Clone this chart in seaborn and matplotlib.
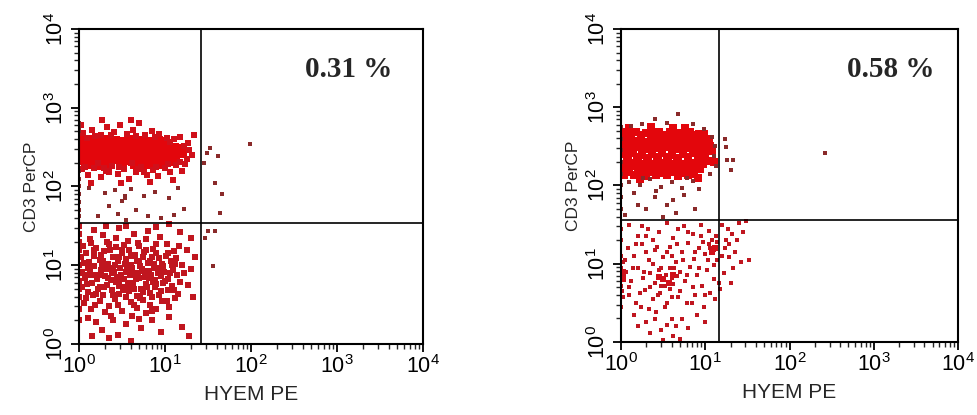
import numpy as np
import pandas as pd
import matplotlib
matplotlib.use("Agg")
import matplotlib.pyplot as plt
from matplotlib.ticker import LogLocator, NullFormatter
import seaborn as sns

# ---------------- data (log10 units of fluorescence) ----------------
AXIS_TICKS = [1, 10, 100, 1000, 10000]
X_LABEL = "HYEM PE"
Y_LABEL = "CD3 PerCP"
PANEL_PCT = ["0.31 %", "0.58 %"]
GATE_X = [26.3, 14.7]
GATE_Y = [34.0, 36.6]

# Left panel, CD3+ cluster, dense core
A_HI_CORE = [
    (0.03, 2.58), (0.12, 2.59), (0.22, 2.57), (0.32, 2.59), (0.42, 2.58), (0.52, 2.57), (0.62, 2.59), (0.72, 2.58), (0.82, 2.57), (0.92, 2.58), (1.00, 2.56),
    (0.02, 2.50), (0.10, 2.51), (0.20, 2.49), (0.30, 2.50), (0.40, 2.51), (0.50, 2.50), (0.60, 2.49), (0.70, 2.51), (0.80, 2.50), (0.90, 2.49), (1.00, 2.50), (1.10, 2.49), (1.17, 2.48),
    (0.04, 2.42), (0.14, 2.43), (0.24, 2.41), (0.34, 2.42), (0.44, 2.43), (0.54, 2.42), (0.64, 2.41), (0.74, 2.42), (0.84, 2.43), (0.94, 2.42), (1.04, 2.41), (1.14, 2.42), (1.20, 2.43),
    (0.03, 2.34), (0.13, 2.35), (0.23, 2.33), (0.33, 2.34), (0.43, 2.35), (0.53, 2.34), (0.63, 2.33), (0.73, 2.34), (0.83, 2.35), (0.93, 2.34), (1.03, 2.33), (1.12, 2.35),
    (0.08, 2.28), (0.20, 2.27), (0.35, 2.29), (0.50, 2.27), (0.65, 2.28), (0.80, 2.29), (0.95, 2.28),
]
A_HI_HALO = [
    (0.05, 2.68), (0.15, 2.72), (0.25, 2.66), (0.33, 2.75), (0.41, 2.69), (0.48, 2.78), (0.56, 2.67), (0.63, 2.72), (0.70, 2.80), (0.77, 2.66),
    (0.85, 2.71), (0.93, 2.67), (1.02, 2.62), (1.10, 2.60), (1.18, 2.63), (0.27, 2.84), (0.60, 2.85), (1.34, 2.66), (0.02, 2.78), (0.09, 2.62),
    (0.04, 2.22), (0.10, 2.15), (0.18, 2.24), (0.26, 2.12), (0.31, 2.20), (0.38, 2.26), (0.45, 2.16), (0.52, 2.22), (0.58, 2.10), (0.66, 2.19),
    (0.72, 2.25), (0.79, 2.14), (0.86, 2.21), (0.92, 2.13), (1.00, 2.24), (1.06, 2.18), (1.13, 2.27), (1.20, 2.20), (1.25, 2.35), (1.28, 2.46),
    (1.27, 2.55), (1.23, 2.29), (0.14, 2.05), (0.49, 2.04), (0.83, 2.06), (1.09, 2.08), (0.22, 2.30), (0.62, 2.30),
    (0.19, 2.64), (0.37, 2.65), (0.66, 2.64), (0.88, 2.63), (1.06, 2.57), (1.22, 2.52), (1.31, 2.40), (1.18, 2.31),
    (0.07, 2.25), (0.29, 2.24), (0.47, 2.25), (0.69, 2.22), (0.89, 2.25), (1.04, 2.29), (0.35, 2.18), (0.75, 2.18),
]
A_HI_SPARSE = [
    (0.12, 1.98), (0.30, 1.92), (0.35, 1.75), (0.42, 1.95), (0.50, 1.82), (0.60, 1.97), (0.66, 1.70), (0.75, 1.88), (0.88, 1.93), (0.95, 1.60),
    (1.05, 1.85), (1.15, 1.98), (1.22, 1.72), (0.22, 1.62), (0.55, 1.58), (0.80, 1.62), (1.10, 1.64), (0.45, 1.65), (0.53, 1.86), (0.54, 1.88),
    (1.52, 2.49), (1.49, 2.42), (1.62, 2.39), (1.58, 2.04), (1.66, 1.91), (1.64, 1.66), (1.50, 1.44), (1.58, 1.44), (1.56, 0.99), (1.47, 1.35),
    (1.99, 2.54), (1.45, 2.30),
    (0.00, 1.62), (0.00, 1.70), (0.00, 1.80), (0.00, 1.90), (0.00, 2.00), (0.00, 2.10), (0.00, 2.20), (0.00, 2.70), (0.00, 2.75), (0.00, 2.80),
]
# Left panel, CD3- cluster
A_LO = [
    (0.05, 1.25), (0.13, 1.33), (0.20, 1.22), (0.28, 1.38), (0.35, 1.27), (0.43, 1.35), (0.50, 1.20), (0.57, 1.31), (0.64, 1.40), (0.70, 1.24),
    (0.78, 1.33), (0.86, 1.21), (0.94, 1.36), (1.02, 1.27), (1.10, 1.18), (0.17, 1.45), (0.47, 1.47), (0.80, 1.44), (1.18, 1.42), (0.31, 1.50),
    (0.02, 1.10), (0.08, 1.15), (0.12, 1.04), (0.18, 1.12), (0.24, 1.07), (0.29, 1.18), (0.34, 1.02), (0.39, 1.11), (0.45, 1.05), (0.50, 1.16),
    (0.55, 1.08), (0.60, 1.00), (0.65, 1.13), (0.70, 1.06), (0.75, 1.17), (0.80, 1.03), (0.85, 1.10), (0.90, 1.15), (0.96, 1.02), (1.01, 1.12),
    (1.07, 1.05), (1.13, 1.09), (1.20, 1.00), (0.27, 1.00), (0.58, 1.19), (0.87, 1.01),
    (0.03, 0.92), (0.07, 0.84), (0.11, 0.97), (0.16, 0.88), (0.21, 0.82), (0.25, 0.94), (0.30, 0.86), (0.33, 0.98), (0.37, 0.81), (0.41, 0.91),
    (0.44, 0.85), (0.48, 0.97), (0.52, 0.83), (0.55, 0.92), (0.59, 0.87), (0.62, 0.96), (0.66, 0.82), (0.69, 0.90), (0.73, 0.95), (0.77, 0.85),
    (0.81, 0.93), (0.84, 0.88), (0.88, 0.81), (0.92, 0.97), (0.95, 0.86), (0.99, 0.91), (1.04, 0.83), (1.09, 0.94), (1.14, 0.87), (1.22, 0.90),
    (0.18, 0.99), (0.46, 0.80), (0.71, 0.99),
    (0.04, 0.72), (0.10, 0.66), (0.15, 0.77), (0.22, 0.70), (0.28, 0.62), (0.32, 0.75), (0.38, 0.68), (0.43, 0.79), (0.47, 0.64), (0.53, 0.73),
    (0.58, 0.67), (0.63, 0.78), (0.68, 0.61), (0.72, 0.70), (0.78, 0.76), (0.83, 0.65), (0.88, 0.72), (0.93, 0.62), (0.98, 0.77), (1.03, 0.68),
    (1.08, 0.74), (1.15, 0.63), (0.55, 0.60), (0.86, 0.79),
    (0.06, 0.52), (0.14, 0.45), (0.24, 0.55), (0.35, 0.48), (0.42, 0.57), (0.50, 0.42), (0.60, 0.53), (0.67, 0.46), (0.74, 0.56), (0.82, 0.50),
    (0.90, 0.44), (0.97, 0.55), (1.05, 0.47), (1.12, 0.58), (0.30, 0.41), (0.78, 0.40),
    (0.10, 0.33), (0.20, 0.28), (0.27, 0.18), (0.40, 0.30), (0.45, 0.12), (0.55, 0.25), (0.62, 0.36), (0.72, 0.20), (0.85, 0.30), (0.95, 0.15),
    (1.05, 0.34), (0.35, 0.08), (0.15, 0.10), (1.20, 0.22), (1.28, 0.10), (0.60, 0.04),
    (0.55, 1.50), (0.90, 1.49), (1.05, 1.52), (1.25, 1.20), (1.30, 0.95), (1.27, 0.75), (1.32, 0.60), (1.35, 1.10), (1.30, 1.35),
    (0.00, 0.30), (0.00, 0.45), (0.00, 0.60), (0.00, 0.70), (0.00, 0.80), (0.00, 0.90), (0.00, 1.00), (0.00, 1.10), (0.00, 1.20), (0.00, 1.30),
    (0.00, 1.40), (0.00, 1.50),
]
A_LO_EXTRA = [
    (0.06, 1.03), (0.09, 0.76), (0.13, 0.91), (0.17, 1.20), (0.20, 0.64), (0.23, 0.87), (0.26, 1.13), (0.29, 0.73), (0.31, 0.95), (0.36, 1.20),
    (0.38, 0.90), (0.40, 0.62), (0.42, 1.00), (0.46, 1.10), (0.49, 0.88), (0.51, 0.68), (0.53, 1.02), (0.57, 0.78), (0.60, 1.12), (0.61, 0.90),
    (0.64, 0.70), (0.67, 1.05), (0.70, 0.84), (0.71, 0.58), (0.74, 1.10), (0.76, 0.93), (0.79, 0.72), (0.82, 1.06), (0.85, 0.60), (0.87, 0.96),
    (0.90, 0.76), (0.93, 1.09), (0.95, 0.67), (0.98, 0.99), (1.00, 0.80), (1.03, 1.16), (1.06, 0.90), (1.10, 0.69), (1.12, 1.02), (1.17, 0.79),
    (0.08, 0.58), (0.14, 1.28), (0.33, 1.30), (0.52, 1.26), (0.69, 1.28), (0.90, 1.27), (1.16, 1.25), (0.19, 0.50), (0.45, 0.50), (0.64, 0.50),
    (0.85, 0.42), (1.02, 0.55), (0.37, 0.35), (0.70, 0.32), (0.24, 0.72), (0.56, 0.96), (0.81, 0.84), (0.34, 0.84), (0.65, 0.90), (0.47, 0.74),
    (0.28, 1.06), (0.74, 0.66), (0.92, 0.90), (1.08, 1.00), (0.16, 0.62), (0.43, 1.23), (0.60, 0.72), (0.10, 0.88), (0.39, 0.97), (0.78, 1.20),
]

# Right panel, CD3+ cluster
B_HI_CORE = [
    (0.05, 2.68), (0.18, 2.69), (0.30, 2.67), (0.45, 2.68), (0.58, 2.69), (0.70, 2.67), (0.82, 2.68), (0.93, 2.66),
    (0.02, 2.60), (0.12, 2.61), (0.24, 2.59), (0.36, 2.60), (0.48, 2.61), (0.60, 2.59), (0.72, 2.60), (0.84, 2.61), (0.96, 2.59), (1.04, 2.60),
    (0.06, 2.52), (0.16, 2.53), (0.28, 2.51), (0.40, 2.52), (0.52, 2.53), (0.64, 2.51), (0.76, 2.52), (0.88, 2.53), (0.99, 2.51),
    (0.03, 2.44), (0.14, 2.45), (0.25, 2.43), (0.37, 2.44), (0.49, 2.45), (0.61, 2.43), (0.73, 2.44), (0.85, 2.45), (0.95, 2.43), (1.05, 2.44),
    (0.07, 2.36), (0.19, 2.37), (0.31, 2.35), (0.43, 2.36), (0.55, 2.37), (0.67, 2.35), (0.79, 2.36), (0.91, 2.37), (1.00, 2.35),
    (0.02, 2.28), (0.13, 2.29), (0.26, 2.27), (0.38, 2.28), (0.50, 2.29), (0.62, 2.27), (0.74, 2.28), (0.86, 2.29), (0.97, 2.27),
    (0.08, 2.20), (0.20, 2.21), (0.33, 2.19), (0.45, 2.20), (0.57, 2.21), (0.70, 2.19), (0.83, 2.20), (0.94, 2.21),
    (0.04, 2.13), (0.16, 2.14), (0.30, 2.12), (0.42, 2.13), (0.55, 2.14), (0.68, 2.12), (0.80, 2.13),
]
B_HI_FILL = [
    (0.11, 2.65), (0.24, 2.64), (0.38, 2.66), (0.51, 2.64), (0.65, 2.65), (0.77, 2.63), (0.89, 2.64), (0.99, 2.66),
    (0.07, 2.56), (0.19, 2.57), (0.31, 2.55), (0.44, 2.56), (0.56, 2.58), (0.68, 2.55), (0.80, 2.56), (0.92, 2.57), (1.02, 2.55),
    (0.09, 2.48), (0.21, 2.49), (0.33, 2.47), (0.45, 2.48), (0.57, 2.49), (0.69, 2.47), (0.81, 2.48), (0.93, 2.49), (1.06, 2.50),
    (0.01, 2.40), (0.12, 2.41), (0.25, 2.39), (0.37, 2.40), (0.49, 2.41), (0.61, 2.39), (0.73, 2.40), (0.86, 2.41), (0.98, 2.40),
    (0.08, 2.32), (0.20, 2.33), (0.32, 2.31), (0.44, 2.32), (0.56, 2.33), (0.68, 2.31), (0.80, 2.32), (0.92, 2.33), (1.03, 2.31),
    (0.05, 2.24), (0.17, 2.25), (0.29, 2.23), (0.41, 2.24), (0.53, 2.25), (0.65, 2.23), (0.77, 2.24), (0.89, 2.25),
    (0.10, 2.17), (0.23, 2.16), (0.36, 2.17), (0.49, 2.16), (0.62, 2.17), (0.74, 2.16), (0.87, 2.15),
    (0.10, 2.74), (0.36, 2.75), (0.62, 2.74), (0.76, 2.73), (1.08, 2.45), (1.10, 2.30), (0.91, 2.09), (0.22, 2.08),
]
B_HI_SPARSE = [
    (1.08, 2.62), (1.12, 2.50), (1.10, 2.38), (1.13, 2.25), (1.06, 2.15), (0.98, 2.72), (0.25, 2.78), (0.55, 2.80), (0.68, 2.92), (0.40, 2.85),
    (0.12, 2.76), (0.85, 2.78),
    (0.10, 2.05), (0.22, 2.00), (0.35, 2.08), (0.48, 1.98), (0.60, 2.05), (0.72, 1.97), (0.85, 2.06), (0.92, 1.95), (0.15, 1.90), (0.40, 1.85),
    (0.55, 1.75), (0.75, 1.88), (0.30, 1.70), (0.65, 1.65), (0.05, 1.62), (0.20, 1.75), (0.88, 1.70), (0.50, 1.60), (0.42, 1.93), (0.62, 1.82),
    (0.78, 2.10), (0.26, 2.10),
    (1.23, 2.59), (1.26, 2.33), (1.31, 2.20), (1.33, 2.33), (1.25, 2.49), (2.42, 2.42),
    (0.00, 1.70), (0.00, 1.85), (0.00, 2.00), (0.00, 2.15), (0.00, 2.30), (0.00, 2.45), (0.00, 2.60), (0.00, 2.75),
]
# Right panel, CD3- cluster
B_LO = [
    (0.00, 0.72), (0.00, 0.80), (0.00, 0.88), (0.00, 0.95), (0.02, 1.02), (0.01, 0.65), (0.03, 0.85), (0.00, 1.10), (0.02, 0.58), (0.00, 1.30),
    (0.00, 0.45), (0.00, 1.45),
    (0.10, 1.50), (0.20, 1.35), (0.32, 1.45), (0.45, 1.40), (0.55, 1.52), (0.62, 1.33), (0.75, 1.48), (0.85, 1.38), (0.95, 1.50), (1.05, 1.42),
    (1.13, 1.35), (0.38, 1.30), (1.20, 1.50), (1.27, 1.44), (1.32, 1.38), (1.40, 1.52), (1.48, 1.55),
    (0.08, 1.20), (0.15, 1.10), (0.25, 1.25), (0.33, 1.05), (0.40, 1.18), (0.50, 1.08), (0.58, 1.22), (0.65, 1.02), (0.72, 1.15), (0.80, 1.27),
    (0.87, 1.06), (0.93, 1.20), (1.00, 1.12), (1.05, 1.25), (1.10, 1.18), (1.14, 1.05), (1.08, 1.30), (0.30, 1.15), (0.60, 1.10), (0.97, 1.28),
    (1.23, 1.20), (1.28, 1.08), (1.35, 1.15), (1.42, 1.02), (1.25, 1.30),
    (0.06, 0.90), (0.12, 0.78), (0.20, 0.95), (0.26, 0.82), (0.34, 0.88), (0.40, 0.75), (0.45, 0.92), (0.50, 0.80), (0.54, 0.86), (0.58, 0.95),
    (0.62, 0.74), (0.66, 0.84), (0.70, 0.90), (0.76, 0.78), (0.82, 0.96), (0.90, 0.85), (0.96, 0.72), (1.02, 0.92), (1.10, 0.80), (0.47, 0.71),
    (0.56, 0.77), (0.60, 0.82), (1.22, 0.88), (1.30, 0.76),
    (0.10, 0.60), (0.18, 0.50), (0.28, 0.66), (0.38, 0.55), (0.46, 0.62), (0.52, 0.45), (0.60, 0.58), (0.70, 0.65), (0.78, 0.50), (0.88, 0.60),
    (0.98, 0.45), (1.06, 0.62), (1.12, 0.55), (0.33, 0.42), (1.18, 0.68),
    (0.15, 0.35), (0.30, 0.25), (0.40, 0.30), (0.48, 0.15), (0.55, 0.22), (0.62, 0.08), (0.72, 0.30), (0.80, 0.18), (0.90, 0.35), (0.60, 0.30),
    (0.35, 0.12), (0.70, 0.04), (1.00, 0.25),
]
B_LO_EXTRA = [
    (0.05, 1.05), (0.10, 0.70), (0.14, 0.95), (0.18, 1.25), (0.22, 0.62), (0.27, 0.90), (0.30, 1.35), (0.35, 0.70), (0.38, 1.00), (0.43, 1.22),
    (0.44, 0.60), (0.48, 0.95), (0.52, 0.72), (0.55, 1.15), (0.58, 0.68), (0.63, 0.95), (0.66, 1.25), (0.68, 0.58), (0.74, 1.05), (0.78, 0.85),
    (0.80, 1.40), (0.85, 0.70), (0.88, 1.15), (0.92, 0.95), (0.95, 1.35), (1.00, 0.60), (1.03, 1.05), (1.06, 1.20), (1.10, 0.98), (1.14, 1.28),
    (1.16, 0.75), (1.20, 1.10), (0.24, 0.45), (0.55, 0.50), (0.84, 0.50), (0.42, 0.38), (0.65, 0.20), (0.20, 0.20), (0.50, 0.02), (0.25, 1.48),
    (0.68, 1.45), (1.28, 1.25), (1.33, 0.95), (1.38, 1.30), (1.45, 1.40), (1.52, 1.05),
]
B_LO_DENSE = [(0.50, 0.80), (0.57, 0.75), (0.62, 0.86), (1.08, 1.15), (1.12, 1.20), (0.45, 0.83), (0.02, 0.80), (0.02, 0.90)]

# ---------------- style ----------------
sns.set_style("white")
plt.rcParams["font.family"] = ["Liberation Sans", "DejaVu Sans"]
plt.rcParams["mathtext.fontset"] = "custom"
plt.rcParams["mathtext.rm"] = "Liberation Sans"
plt.rcParams["mathtext.it"] = "Liberation Sans"
plt.rcParams["mathtext.bf"] = "Liberation Sans"

RED = "#e3060c"
RED2 = "#d0101a"
LOW = "#c0161f"
DARK = "#8a2a2a"


def frame(points):
    arr = np.array(points, dtype=float)
    return pd.DataFrame({"x": 10 ** arr[:, 0], "y": 10 ** arr[:, 1]})


fig = plt.figure(figsize=(9.77, 4.15), dpi=100)
ax_a = fig.add_axes([79 / 977, 1 - 344 / 415, (423 - 79) / 977, (344 - 29) / 415])
ax_b = fig.add_axes([621 / 977, 1 - 342 / 415, (958 - 621) / 977, (342 - 29) / 415])

layers = [
    (ax_a, [(A_HI_CORE, 52, RED), (A_HI_HALO, 13, RED2), (A_HI_SPARSE, 5, DARK),
            (A_LO, 13, LOW), (A_LO_EXTRA, 13, LOW)]),
    (ax_b, [(B_HI_CORE, 36, RED), (B_HI_FILL, 26, RED), (B_HI_SPARSE, 6, DARK),
            (B_LO, 9, LOW), (B_LO_EXTRA, 9, LOW), (B_LO_DENSE, 20, RED2)]),
]

for i, (ax, sets) in enumerate(layers):
    ax.set_xscale("log")
    ax.set_yscale("log")
    for pts, size, col in sets:
        sns.scatterplot(data=frame(pts), x="x", y="y", ax=ax, s=size, color=col,
                        marker="s", linewidth=0, legend=False, zorder=2)
    ax.set_xlim(1, 1e4)
    ax.set_ylim(1, 1e4)
    ax.axvline(GATE_X[i], color="black", lw=1.2, zorder=3)
    ax.axhline(GATE_Y[i], color="black", lw=1.2, zorder=3)
    ax.set_xticks(AXIS_TICKS)
    ax.set_yticks(AXIS_TICKS)
    ax.xaxis.set_minor_locator(LogLocator(base=10, subs=np.arange(2, 10)))
    ax.yaxis.set_minor_locator(LogLocator(base=10, subs=np.arange(2, 10)))
    ax.xaxis.set_minor_formatter(NullFormatter())
    ax.yaxis.set_minor_formatter(NullFormatter())
    ax.tick_params(axis="both", which="major", direction="out", length=6, width=1.3,
                   labelsize=15.5, colors="black", bottom=True, left=True, pad=2)
    ax.tick_params(axis="both", which="minor", direction="out", length=3.5, width=1.0,
                   bottom=True, left=True)
    for lab in ax.get_yticklabels():
        lab.set_rotation(90)
        lab.set_va("center")
    ax.set_xlabel(X_LABEL, fontsize=15, labelpad=5)
    ax.set_ylabel(Y_LABEL, fontsize=12.5, labelpad=4)
    for sp in ax.spines.values():
        sp.set_color("black")
        sp.set_linewidth(1.5)
    ax.text(10 ** (3.14 if i == 0 else 3.2), 10 ** 3.39, PANEL_PCT[i],
            ha="center", va="baseline", fontsize=21, fontweight="bold",
            family=["Liberation Serif", "DejaVu Serif"], zorder=4)

fig.savefig("out.png", dpi=100, facecolor="white")
